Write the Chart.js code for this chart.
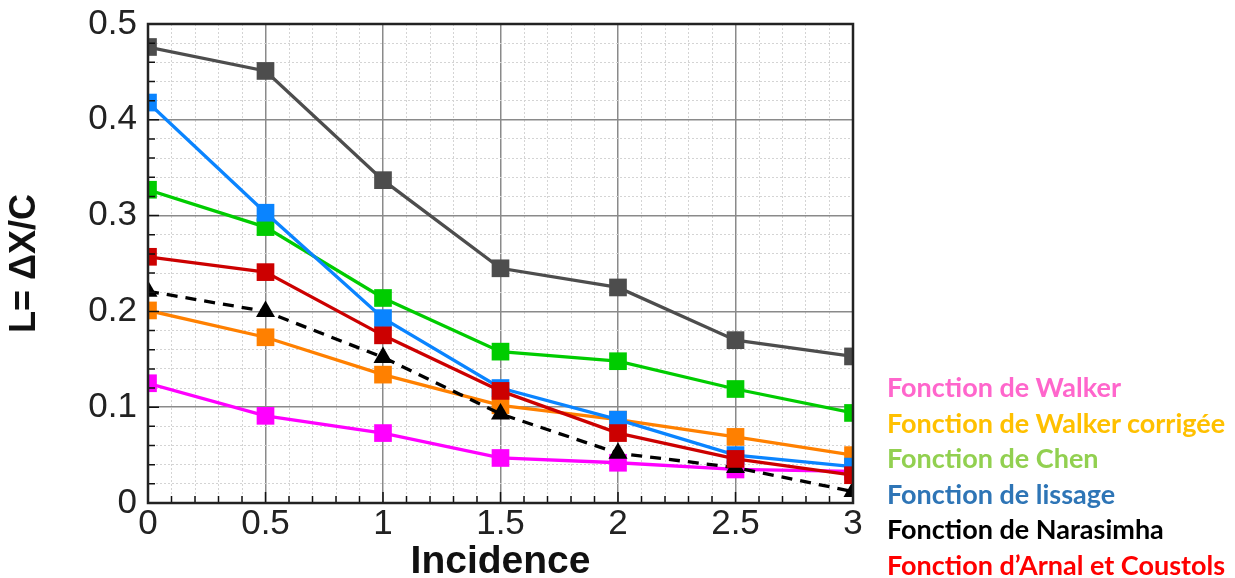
<!DOCTYPE html>
<html>
<head>
<meta charset="utf-8">
<script src="https://cdn.jsdelivr.net/npm/chart.js@4"></script>
<style>
  body { margin: 0; background: #fff; }
  #wrap { position: relative; width: 1235px; height: 578px; overflow: hidden; }
  #legend { position: absolute; left: 887px; top: 369px; font-family: Lato, "Open Sans", sans-serif; font-weight: 700; font-size: 27px; line-height: 35.6px; white-space: nowrap; }
</style>
</head>
<body>
<div id="wrap">
  <canvas id="chart" width="1235" height="578"></canvas>
  <div id="legend"></div>
</div>
<script>
const incidence = [0, 0.5, 1, 1.5, 2, 2.5, 3];

const reference = [0.476, 0.451, 0.337, 0.245, 0.225, 0.170, 0.153];
const lissage = [0.418, 0.303, 0.193, 0.120, 0.087, 0.050, 0.038];
const chen = [0.327, 0.288, 0.214, 0.158, 0.148, 0.119, 0.094];
const arnal = [0.257, 0.241, 0.175, 0.117, 0.073, 0.046, 0.029];
const walkerCorr = [0.201, 0.173, 0.134, 0.102, 0.087, 0.069, 0.050];
const walker = [0.125, 0.091, 0.073, 0.047, 0.042, 0.035, 0.033];
const narasimha = [0.221, 0.200, 0.152, 0.093, 0.052, 0.037, 0.012];

const legendNames = [
    'Fonction de Walker',
    'Fonction de Walker corrigée',
    'Fonction de Chen',
    'Fonction de lissage',
    'Fonction de Narasimha',
    'Fonction d\u2019Arnal et Coustols'
];
const legendColors = ['#ff66cc', '#ffc000', '#92d050', '#2e75b6', '#000000', '#ff0000'];

const legend = document.getElementById('legend');
legendNames.forEach((name, i) => {
    const d = document.createElement('div');
    d.textContent = name;
    d.style.color = legendColors[i];
    legend.appendChild(d);
});

const pts = vals => incidence.map((x, i) => ({ x, y: vals[i] }));

function series(label, vals, color, extra) {
    return Object.assign({
        label,
        data: pts(vals),
        borderColor: color,
        backgroundColor: color,
        borderWidth: 3.3,
        pointStyle: 'rect',
        pointRadius: 12.5,
        pointHoverRadius: 12.5,
        pointBorderWidth: 0,
        tension: 0
    }, extra || {});
}

const isMajor = (v, step) => Math.abs(v / step - Math.round(v / step)) < 1e-6;
const tickFont = { family: '"Liberation Sans", Arial, sans-serif', size: 35 };

// inward tick marks and the frame round the plot
const frame = {
    id: 'frame',
    afterDatasetsDraw(chart) {
        const { ctx, chartArea: a, scales: { x, y } } = chart;
        ctx.save();
        ctx.strokeStyle = '#111';
        ctx.lineWidth = 1.5;
        ctx.beginPath();
        x.ticks.forEach(t => {
            const px = x.getPixelForValue(t.value);
            const len = isMajor(t.value, 0.5) ? 11 : 7;
            ctx.moveTo(px, a.bottom);
            ctx.lineTo(px, a.bottom - len);
        });
        y.ticks.forEach(t => {
            const py = y.getPixelForValue(t.value);
            const len = isMajor(t.value, 0.1) ? 11 : 7;
            ctx.moveTo(a.left, py);
            ctx.lineTo(a.left + len, py);
        });
        ctx.stroke();
        ctx.lineWidth = 2.5;
        ctx.strokeStyle = '#222';
        ctx.strokeRect(a.left, a.top, a.right - a.left, a.bottom - a.top);
        ctx.restore();
    }
};

new Chart(document.getElementById('chart'), {
    type: 'line',
    data: {
        datasets: [
            series('Fonction d\u2019Arnal et Coustols', arnal, '#cc0000'),
            series('Fonction de Narasimha', narasimha, '#000000', {
                borderDash: [11, 8],
                pointStyle: 'triangle',
                pointRadius: 11
            }),
            series('Fonction de lissage', lissage, '#0a84ff'),
            series('Fonction de Walker corrigée', walkerCorr, '#ff8000'),
            series('Fonction de Chen', chen, '#00cc00'),
            series('Fonction de Walker', walker, '#ff00ff'),
            series('Référence', reference, '#4d4d4d')
        ]
    },
    options: {
        responsive: false,
        animation: false,
        layout: { padding: { top: 24, right: 382, left: 0, bottom: 0 } },
        plugins: {
            legend: { display: false },
            tooltip: { enabled: false }
        },
        scales: {
            x: {
                type: 'linear',
                min: 0,
                max: 3,
                afterFit(scale) { scale.height = 75; },
                ticks: {
                    stepSize: 0.1,
                    autoSkip: false,
                    maxRotation: 0,
                    padding: 0,
                    color: '#222',
                    font: tickFont,
                    callback: v => isMajor(v, 0.5) ? String(Math.round(v * 2) / 2) : ''
                },
                grid: {
                    drawTicks: false,
                    color: ctx => isMajor(ctx.tick.value, 0.5) ? '#8a8a8a' : '#d4d4d4',
                    lineWidth: ctx => isMajor(ctx.tick.value, 0.5) ? 1.5 : 1
                },
                border: {
                    display: false,
                    dash: ctx => isMajor(ctx.tick.value, 0.5) ? [] : [2, 2]
                },
                title: {
                    display: true,
                    text: 'Incidence',
                    color: '#111',
                    padding: 0,
                    font: { family: '"Liberation Sans", Arial, sans-serif', size: 39, weight: 'bold', lineHeight: 0.8 }
                }
            },
            y: {
                min: 0,
                max: 0.5,
                afterFit(scale) {
                    scale.width = 148;
                    scale.paddingTop = 0;
                    scale.paddingBottom = 0;
                },
                ticks: {
                    stepSize: 0.02,
                    autoSkip: false,
                    padding: 11,
                    color: '#222',
                    font: tickFont,
                    callback: v => isMajor(v, 0.1) ? String(Math.round(v * 10) / 10) : ''
                },
                grid: {
                    drawTicks: false,
                    color: ctx => isMajor(ctx.tick.value, 0.1) ? '#8a8a8a' : '#d4d4d4',
                    lineWidth: ctx => isMajor(ctx.tick.value, 0.1) ? 1.5 : 1
                },
                border: {
                    display: false,
                    dash: ctx => isMajor(ctx.tick.value, 0.1) ? [] : [2, 2]
                },
                title: {
                    display: true,
                    text: 'L= \u0394X/C',
                    color: '#111',
                    padding: { top: 3 },
                    font: { family: '"Liberation Sans", Arial, sans-serif', size: 36, weight: 'bold', lineHeight: 1.2 }
                }
            }
        }
    },
    plugins: [frame]
});
</script>
</body>
</html>
